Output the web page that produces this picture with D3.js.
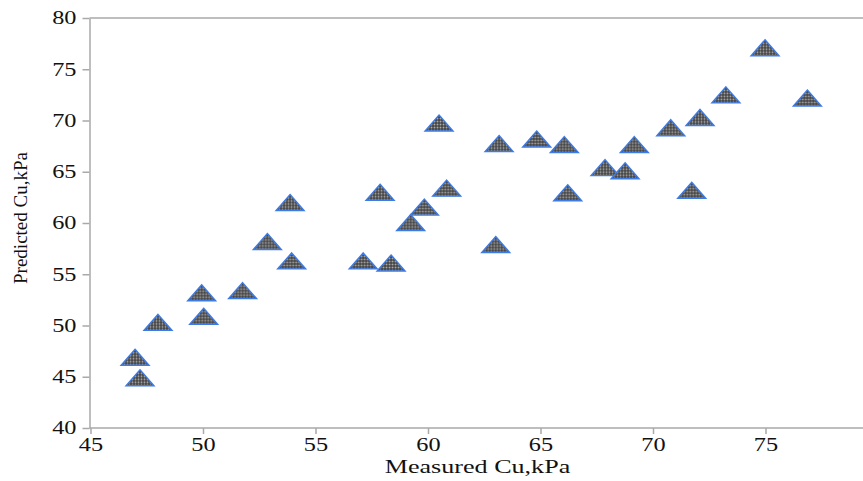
<!DOCTYPE html>
<html>
<head>
<meta charset="utf-8">
<script src="https://cdn.jsdelivr.net/npm/d3@7"></script>
<style>
  html, body { margin: 0; padding: 0; background: #fff; }
  svg { display: block; }
  text { font-family: "Liberation Serif", "Times New Roman", serif; fill: #111; }
</style>
</head>
<body>
<div id="chart"></div>
<script>
// ---- data ----
const measured = [46.98, 47.2, 48.0, 50.03, 49.94, 51.76, 52.86, 53.87, 53.94, 57.12,
                  58.36, 57.87, 59.23, 59.84, 60.49, 60.83, 63.01, 63.16, 64.83, 66.06,
                  66.21, 67.87, 68.76, 69.17, 70.79, 71.72, 72.09, 73.24, 74.98, 76.86];
const predicted = [46.9, 44.9, 50.3, 50.9, 53.2, 53.4, 58.2, 62.0, 56.3, 56.3,
                   56.1, 63.0, 60.05, 61.55, 69.75, 63.4, 57.9, 67.75, 68.2, 67.65,
                   62.95, 65.4, 65.1, 67.65, 69.3, 63.2, 70.3, 72.5, 77.1, 72.2];
const xTicks = [45, 50, 55, 60, 65, 70, 75];
const yTicks = [40, 45, 50, 55, 60, 65, 70, 75, 80];
const xTitle = "Measured Cu,kPa";
const yTitle = "Predicted Cu,kPa";

const W = 863, H = 481;
const svg = d3.select("#chart").append("svg").attr("width", W).attr("height", H);

const x = d3.scaleLinear().domain([45, 80]).range([90.5, 878]);
const y = d3.scaleLinear().domain([40, 80]).range([428, 18]);

const axisColor = "#a9a9a9";
const sx = 1.35; // horizontal stretch of text seen in the reference

// pattern for the marker fill
const defs = svg.append("defs");
const pat = defs.append("pattern").attr("id", "hatch")
  .attr("width", 3).attr("height", 3).attr("patternUnits", "userSpaceOnUse");
pat.append("rect").attr("width", 3).attr("height", 3).attr("fill", "#4a4a4a");
pat.append("rect").attr("x", 0).attr("y", 1).attr("width", 3).attr("height", 1).attr("fill", "#6a6a6a");
pat.append("rect").attr("x", 1).attr("y", 0).attr("width", 1).attr("height", 3).attr("fill", "#6a6a6a");
pat.append("rect").attr("x", 1).attr("y", 1).attr("width", 1).attr("height", 1).attr("fill", "#b0b0b0");

// top frame line
svg.append("line").attr("x1", x(45) - 1).attr("x2", W).attr("y1", y(80)).attr("y2", y(80))
  .attr("stroke", axisColor).attr("stroke-width", 1.5);

// x axis
const gx = svg.append("g").attr("transform", `translate(0,${y(40)})`)
  .call(d3.axisBottom(x).tickValues(xTicks).tickSize(6).tickPadding(4).tickSizeOuter(0));
// y axis
const gy = svg.append("g").attr("transform", `translate(${x(45) - 1},0)`)
  .call(d3.axisLeft(y).tickValues(yTicks).tickSize(7).tickPadding(6).tickSizeOuter(0));

[gx, gy].forEach(g => {
  g.select(".domain").attr("stroke", axisColor).attr("stroke-width", 1.5);
  g.selectAll(".tick line").attr("stroke", axisColor).attr("stroke-width", 1.5);
  g.selectAll(".tick text").attr("font-family", "Liberation Serif, serif")
    .attr("font-size", 18).attr("fill", "#111");
});
gx.select(".domain").attr("d", `M${x(45) - 1},0H${W}`);
gx.selectAll(".tick text").each(function () {
  d3.select(this).attr("transform", `scale(${sx},1)`).attr("x", 0);
});
gy.selectAll(".tick text").each(function () {
  const t = d3.select(this);
  const xx = +t.attr("x");
  t.attr("x", xx / sx).attr("transform", `scale(${sx},1)`);
});

// markers
const tri = "M0,-8L14,8L-14,8Z";
svg.append("g").selectAll("path").data(measured.map((m, i) => [m, predicted[i]]))
  .join("path")
  .attr("d", tri)
  .attr("transform", d => `translate(${x(d[0])},${y(d[1])})`)
  .attr("fill", "url(#hatch)")
  .attr("stroke", "#3d7be6")
  .attr("stroke-width", 1.4)
  .attr("stroke-linejoin", "miter");

// axis titles
svg.append("text").attr("transform", `translate(477.5,473) scale(1.45,1)`)
  .attr("text-anchor", "middle").attr("font-size", 18).text(xTitle);
svg.append("text").attr("transform", `translate(27,218) rotate(-90)`)
  .attr("text-anchor", "middle").attr("font-size", 19).text(yTitle);
</script>
</body>
</html>
